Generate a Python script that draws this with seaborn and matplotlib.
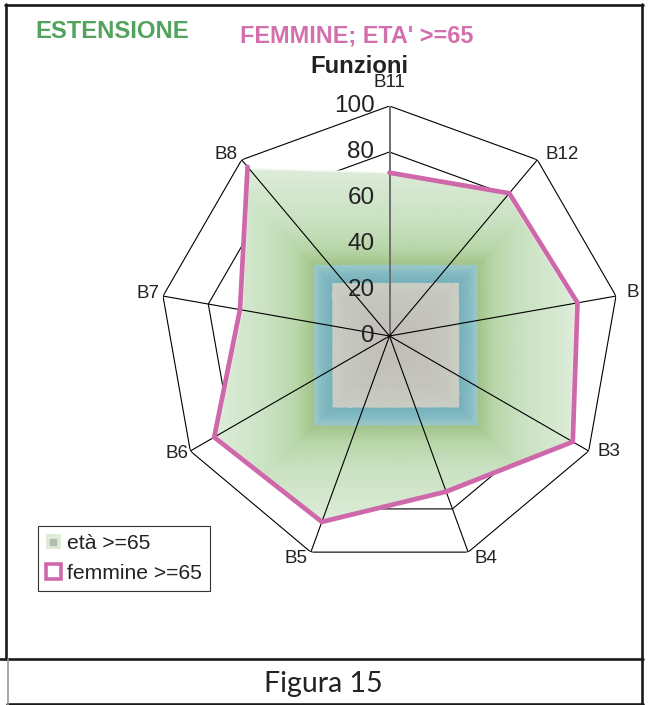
import numpy as np
import matplotlib
matplotlib.use("Agg")
import matplotlib.pyplot as plt
import seaborn as sns
from matplotlib.colors import LinearSegmentedColormap
from matplotlib.patches import Patch
from matplotlib.lines import Line2D
from matplotlib.transforms import offset_copy, Bbox, TransformedBbox

# ---- data -------------------------------------------------------------
categories = ["B11", "B12", "B2", "B3", "B4", "B5", "B6", "B7", "B8"]
eta_65 = [71, 80, 82, 91, 73, 86, 87, 65, 95]
femmine_65 = [71, 81, 83, 92, 72, 86, 88, 66, 96]
r_ticks = [0, 20, 40, 60, 80, 100]
series_names = ["età >=65", "femmine >=65"]

# ---- style --------------------------------------------------------------
sns.set_theme(style="white")
plt.rcParams["font.family"] = ["Liberation Sans", "DejaVu Sans"]

PINK = "#cf68aa"
TITLE_PINK = "#d36fad"
TITLE_GREEN = "#52a35d"
INK = "#222222"

W, H = 648, 705
fig = plt.figure(figsize=(W / 100, H / 100), dpi=100)
fig.patch.set_facecolor("white")


def px(x, y):
    """pixel position (from top-left) -> figure fraction"""
    return (x / W, 1 - y / H)


# ---- polar axes -------------------------------------------------------
cx, cy, R = 389.5, 336.0, 230.0
ax = fig.add_axes([(cx - R) / W, (H - cy - R) / H, 2 * R / W, 2 * R / H],
                  projection="polar")
ax.set_theta_zero_location("N")
ax.set_theta_direction(-1)
ax.grid(False)
ax.spines["polar"].set_visible(False)
ax.set_xticks([])
ax.set_yticks([])
ax.patch.set_alpha(0)

n = len(categories)
theta = np.deg2rad(np.arange(n) * 360.0 / n)
theta_c = np.append(theta, theta[0])
eta_c = np.append(eta_65, eta_65[0])
fem_c = np.append(femmine_65, femmine_65[0])

# polygonal grid rings
for r in r_ticks[1:]:
    ax.plot(theta_c, [r] * (n + 1), color="black", lw=0.8, zorder=1)

# area series: outline polygon, used as clip path for the gradient
poly = ax.fill(theta_c, eta_c, facecolor="none", edgecolor="#f4f9f3",
               lw=1.2, zorder=3)[0]

# rectangular "from centre" gradient filling the area
stops = [(0.0, "#c1bdb7"), (0.22, "#c4c4bd"), (0.35, "#c9cdc3"),
         (0.356, "#76b1bc"), (0.41, "#84bbc2"), (0.452, "#9ac8c8"),
         (0.458, "#a2c489"), (0.55, "#b8d6a9"), (0.70, "#c9e1c1"),
         (0.86, "#d3e7cd"), (0.97, "#dbebd7"), (1.0, "#dfeddb")]
cmap = LinearSegmentedColormap.from_list("area_grad", stops, N=512)

tt = np.linspace(0, 2 * np.pi, 1081)
rr = np.linspace(0, 100, 401)
tc = (tt[:-1] + tt[1:]) / 2
rc = (rr[:-1] + rr[1:]) / 2
TC, RC = np.meshgrid(tc, rc)
X, Y = RC * np.sin(TC), RC * np.cos(TC)
vx = np.array(eta_65) * np.sin(theta)
vy = np.array(eta_65) * np.cos(theta)
mx, my = (vx.max() + vx.min()) / 2, (vy.max() + vy.min()) / 2
hx, hy = (vx.max() - vx.min()) / 2, (vy.max() - vy.min()) / 2
G = np.maximum(np.abs(X - mx) / hx, np.abs(Y - my) / hy)
mesh = ax.pcolormesh(tt, rr, G, cmap=cmap, vmin=0, vmax=1, shading="flat",
                     antialiased=False, edgecolors="none", zorder=2,
                     rasterized=True)
mesh.set_clip_path(poly)

# spokes
for i, t in enumerate(theta):
    if i == 0:
        ax.plot([t, t], [0, 100], color="#6e6e6e", lw=1.4, zorder=4)
    else:
        ax.plot([t, t], [0, 100], color="black", lw=0.8, zorder=4)

# line series
sns.lineplot(x=theta_c, y=fem_c, ax=ax, sort=False, color=PINK, lw=3.4,
             zorder=5, legend=False, solid_joinstyle="miter")
ax.set_xlabel("")
ax.set_ylabel("")
ax.set_ylim(0, 100)

# radial value labels beside the top spoke
for r in r_ticks:
    ax.text(0, r, str(r), fontsize=17.5, color=INK, ha="right", va="center",
            transform=offset_copy(ax.transData, fig=fig, x=-15, y=0,
                                  units="dots"), zorder=6)

# category labels at the outer vertices
lab_off = [(0, 19), (8, 5), (10, 4), (9, -1), (6, 2), (-3, 2), (-2, -2),
           (-3, 3), (-4, 5)]
lab_ha = ["center", "left", "left", "left", "left", "right", "right",
          "right", "right"]
lab_va = ["baseline", "center", "center", "center", "top", "top", "center",
          "center", "center"]
frame_clip = TransformedBbox(Bbox.from_extents(0, 0, 638.5 / W, 1),
                             fig.transFigure)
for t, name, (dx, dy), ha, va in zip(theta, categories, lab_off, lab_ha,
                                     lab_va):
    txt = ax.text(t, 100, name, fontsize=13.5, color=INK, ha=ha, va=va,
                  transform=offset_copy(ax.transData, fig=fig, x=dx, y=dy,
                                        units="dots"), zorder=6)
    txt.set_clip_box(frame_clip)
    txt.set_clip_on(True)

# ---- titles -------------------------------------------------------------
fig.text(*px(35, 38.3), "ESTENSIONE", fontsize=17.2, fontweight="bold",
         color=TITLE_GREEN, ha="left", va="baseline")
fig.text(*px(357, 42.7), "FEMMINE; ETA' >=65", fontsize=16.8,
         fontweight="bold", color=TITLE_PINK, ha="center", va="baseline")
fig.text(*px(359, 73.3), "Funzioni", fontsize=17.2, fontweight="bold",
         color=INK, ha="center", va="baseline")

# ---- legend -------------------------------------------------------------
h_area = (Patch(facecolor="#dcecd6", edgecolor="none"),
          Line2D([], [], marker="s", ms=4.5, color="#b3bab0", ls="none"))
h_line = Patch(facecolor="white", edgecolor=PINK, lw=2.6)
leg = fig.legend([h_area, h_line], series_names, loc="upper left",
                 bbox_to_anchor=px(38, 526), borderaxespad=0, frameon=True,
                 fancybox=False, edgecolor="black", fontsize=15.2,
                 handlelength=0.7, handleheight=0.7, handletextpad=0.3,
                 borderpad=0.38, labelspacing=0.5)
leg.get_frame().set_linewidth(0.8)
for t in leg.get_texts():
    t.set_color(INK)

# ---- frame and caption -----------------------------------------------
def hline(x0, x1, y, **kw):
    fig.add_artist(Line2D([x0 / W, x1 / W], [1 - y / H, 1 - y / H],
                          transform=fig.transFigure, **kw))


def vline(x, y0, y1, **kw):
    fig.add_artist(Line2D([x / W, x / W], [1 - y0 / H, 1 - y1 / H],
                          transform=fig.transFigure, **kw))


hline(5, 643, 5, color="#1a1a1a", lw=1.9)
vline(6, 4, 659, color="#1a1a1a", lw=1.9)
vline(641.5, 4, 705, color="#1a1a1a", lw=1.9)
hline(0, 643, 658.5, color="#1a1a1a", lw=1.9)
hline(7, 643, 703.5, color="#1a1a1a", lw=1.9)
vline(7.5, 659, 705, color="#a59595", lw=1.2)

fig.text(*px(323, 692), "Figura 15", fontsize=20.5, color=INK,
         family=["Lato", "DejaVu Sans"], ha="center", va="baseline")

fig.savefig("out.png", dpi=100, facecolor="white")
